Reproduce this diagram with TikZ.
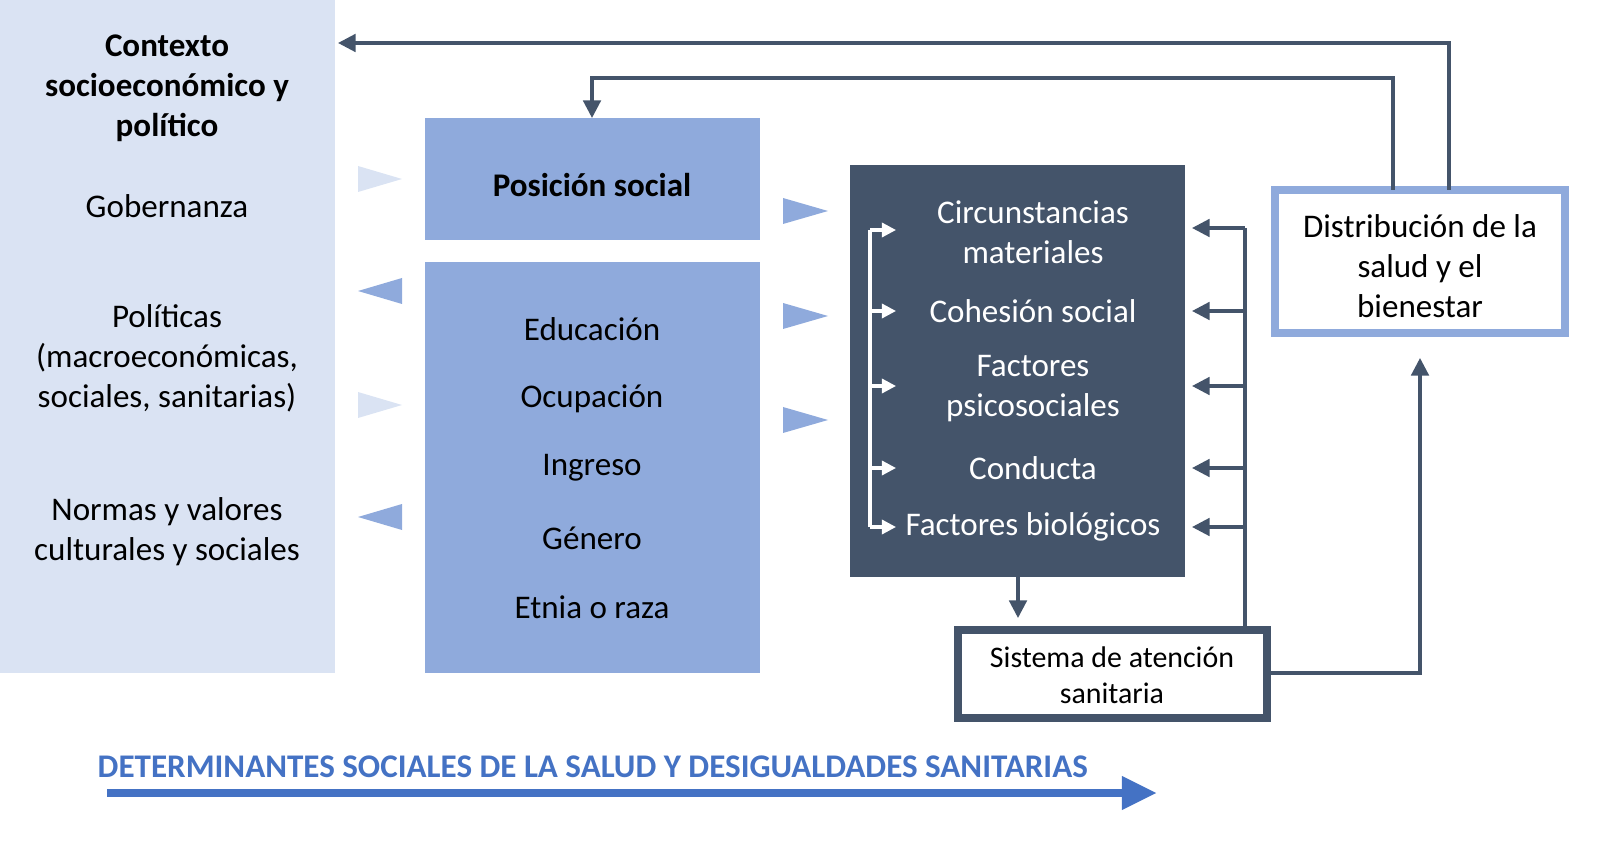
\documentclass[tikz,border=0pt]{standalone}
\usepackage{fontspec}
\setmainfont{Carlito}
\usetikzlibrary{arrows.meta}
\definecolor{lightbg}{HTML}{DAE3F3}
\definecolor{midblue}{HTML}{8FAADC}
\definecolor{dark}{HTML}{44546A}
\definecolor{titleblue}{HTML}{4472C4}
\begin{document}
\begin{tikzpicture}[x=0.01cm,y=-0.01cm,
  txt/.style={font=\fontsize{9.4pt}{11.4pt}\selectfont,align=center,text=black},
  wtxt/.style={txt,text=white},
  con/.style={draw=dark,line width=0.9pt,-{Triangle[length=5pt,width=5pt]}},
  wcon/.style={draw=white,line width=0.9pt,-{Triangle[length=4pt,width=4pt]}}]
\fill[lightbg] (0,0) rectangle (335,673);
\node[txt,font=\fontsize{9.4pt}{11.4pt}\selectfont\bfseries] (ctx) at (167,88) {Contexto\\socioeconómico y\\político};
\node[txt] (gob) at (167,206) {Gobernanza};
\node[txt] (pol) at (167,358) {Políticas\\(macroeconómicas,\\sociales, sanitarias)};
\node[txt] (nor) at (167,532) {Normas y valores\\culturales y sociales};
\fill[midblue] (425,118) rectangle (760,240);
\node[txt,font=\fontsize{9.4pt}{11.4pt}\selectfont\bfseries] (pos) at (592,185) {Posición social};
\fill[midblue] (425,262) rectangle (760,673);
\foreach \t/\y/\n in {Educación/329/e1,Ocupación/399/e2,Ingreso/468/e3,Género/538/e4,Etnia o raza/607/e5}
  \node[txt] (\n) at (592,\y) {\t};
\fill[dark] (850,165) rectangle (1185,577);
\node[wtxt] (c1) at (1033,232) {Circunstancias\\materiales};
\node[wtxt] (c2) at (1033,311) {Cohesión social};
\node[wtxt] (c3) at (1033,389) {Factores\\psicosociales};
\node[wtxt] (c4) at (1033,468) {Conducta};
\node[wtxt] (c5) at (1033,527) {Factores biológicos};
\draw[white,line width=0.9pt] (870,230) -- (870,527);
\foreach \y in {230,311,386,468,527} \draw[wcon] (870,\y) -- (896,\y);
\draw[draw=midblue,line width=2.5pt,fill=white] (1275,190) rectangle (1565,333);
\node[txt] (dist) at (1420,266) {Distribución de la\\salud y el\\bienestar};
\draw[draw=dark,line width=2.2pt,fill=white] (958,630) rectangle (1267,718);
\node[txt,font=\fontsize{8.5pt}{10.2pt}\selectfont] (sis) at (1112,675) {Sistema de atención\\sanitaria};
\foreach \y in {179,405} \fill[lightbg] (358,\y-13) -- (402,\y) -- (358,\y+13) -- cycle;
\foreach \y in {291,517} \fill[midblue] (402,\y-13) -- (358,\y) -- (402,\y+13) -- cycle;
\foreach \y in {211,316,420} \fill[midblue] (783,\y-13) -- (828,\y) -- (783,\y+13) -- cycle;
\draw[con] (1449,190) -- (1449,43) -- (338,43);
\draw[con] (1393,190) -- (1393,78) -- (592,78) -- (592,118);
\draw[con] (1018,577) -- (1018,618);
\draw[dark,line width=0.9pt] (1245,630) -- (1245,228);
\foreach \y in {228,311,386,468,527} \draw[con] (1245,\y) -- (1192,\y);
\draw[con] (1267,673) -- (1420,673) -- (1420,358);
\node[font=\fontsize{9.4pt}{11.4pt}\selectfont\bfseries,text=titleblue,anchor=west,inner sep=0pt] (title) at (97,767) {DETERMINANTES SOCIALES DE LA SALUD Y DESIGUALDADES SANITARIAS};
\draw[titleblue,line width=2.3pt,-{Triangle[length=10pt,width=9pt]}] (107,793) -- (1157,793);
\pgfresetboundingbox
\useasboundingbox (0,0) rectangle (1600,846);
\end{tikzpicture}
\end{document}
